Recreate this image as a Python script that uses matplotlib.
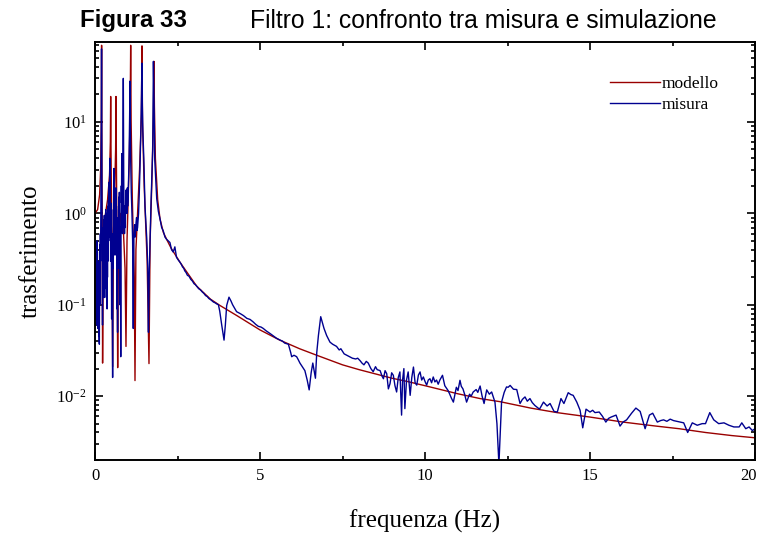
import numpy as np
import matplotlib.pyplot as plt
from matplotlib import ticker, font_manager

# valori: modello (curva rossa)
freq_modello = [0.0, 0.08, 0.14, 0.17, 0.19, 0.20, 0.21, 0.22, 0.23, 0.25, 0.30, 0.38, 0.44, 0.465,
                0.475, 0.485, 0.51, 0.535, 0.56, 0.60, 0.625, 0.636, 0.648, 0.67, 0.687, 0.71,
                0.78, 0.85, 0.91, 0.939, 0.97, 1.03, 1.065, 1.081, 1.095, 1.13, 1.19, 1.212, 1.24,
                1.35, 1.405, 1.424, 1.44, 1.49, 1.58, 1.636, 1.67, 1.72, 1.77, 1.788, 1.80, 1.83,
                1.90, 1.97, 2.07, 2.17, 2.3, 2.58, 3.08, 3.5, 3.79, 4.3, 5.0, 5.6, 6.2, 6.72, 7.5,
                8.0, 9.0, 9.45, 10.0, 11.0, 11.67, 12.27, 13.2, 14.0, 15.0, 16.0, 17.0, 17.7, 18.5,
                19.3, 20.0]
val_modello = [1.0, 1.1, 1.6, 3.0, 9.0, 69, 4.0, 0.4, 0.023, 0.4, 0.9, 1.4, 2.6, 6.0,
               19, 5.0, 0.6, 0.021, 0.6, 2.0, 5.0, 19, 4.0, 0.3, 0.0205, 0.4,
               1.0, 0.8, 0.25, 0.035, 0.5, 3.0, 12, 69, 10, 1.5, 0.2, 0.0148, 0.4,
               3.0, 12, 68, 10, 2.0, 0.3, 0.0227, 0.5, 2.0, 12, 46, 15, 4.0,
               1.4, 0.87, 0.62, 0.52, 0.42, 0.29, 0.16, 0.115, 0.098, 0.076, 0.053, 0.041, 0.033,
               0.028, 0.022, 0.0195, 0.0157, 0.0145, 0.0130, 0.0106, 0.0094, 0.0087, 0.0074,
               0.0066, 0.0059, 0.0052, 0.0047, 0.0044, 0.0040, 0.0037, 0.0035]

# valori: misura (curva blu), in quattro tratti
# tratto 1: 0 - 0.9 Hz (passo 0.006)
freq_mis_1 = [
    0.000, 0.006, 0.012, 0.018, 0.024, 0.030, 0.036, 0.042, 0.048, 0.054, 0.060, 0.066, 0.072,
    0.078, 0.084, 0.090, 0.096, 0.102, 0.108, 0.114, 0.120, 0.126, 0.132, 0.138, 0.144, 0.150,
    0.156, 0.162, 0.168, 0.174, 0.180, 0.186, 0.192, 0.198, 0.204, 0.210, 0.216, 0.222, 0.228,
    0.234, 0.240, 0.246, 0.252, 0.258, 0.264, 0.270, 0.276, 0.282, 0.288, 0.294, 0.300, 0.306,
    0.312, 0.318, 0.324, 0.330, 0.336, 0.342, 0.348, 0.354, 0.360, 0.366, 0.372, 0.378, 0.384,
    0.390, 0.396, 0.402, 0.408, 0.414, 0.420, 0.426, 0.432, 0.438, 0.444, 0.450, 0.456, 0.462,
    0.468, 0.474, 0.480, 0.486, 0.492, 0.498, 0.504, 0.510, 0.516, 0.522, 0.528, 0.534, 0.540,
    0.546, 0.552, 0.558, 0.564, 0.570, 0.576, 0.582, 0.588, 0.594, 0.600, 0.606, 0.612, 0.618,
    0.624, 0.630, 0.636, 0.642, 0.648, 0.654, 0.660, 0.666, 0.672, 0.678, 0.684, 0.690, 0.696,
    0.702, 0.708, 0.714, 0.720, 0.726, 0.732, 0.738, 0.744, 0.750, 0.756, 0.762, 0.768, 0.774,
    0.780, 0.786, 0.792, 0.798, 0.804, 0.810, 0.816, 0.822, 0.828, 0.834, 0.840, 0.846, 0.852,
    0.858, 0.864, 0.870, 0.876, 0.882, 0.888, 0.894, 0.900]
val_mis_1 = [
    0.55, 0.10, 0.50, 0.07, 0.40, 0.08, 0.32, 0.06, 0.45, 0.12, 0.50, 0.07, 0.38,
    0.09, 0.30, 0.055, 0.26, 0.06, 0.22, 0.045, 0.20, 0.04, 0.037, 0.30, 0.10, 0.45,
    0.15, 0.60, 0.30, 0.9, 1.6, 4.0, 12, 63, 8.0, 1.5, 0.5, 0.10, 0.06,
    0.35, 0.12, 0.55, 0.15, 0.70, 0.20, 0.85, 0.25, 0.95, 0.30, 0.12, 0.65, 0.20,
    0.9, 0.30, 1.1, 0.35, 0.8, 0.15, 0.6, 0.25, 1.0, 0.09, 0.55, 0.20, 0.8,
    0.30, 1.2, 0.40, 1.4, 0.50, 1.8, 0.55, 2.2, 0.7, 2.6, 4.0, 1.5, 0.6,
    1.1, 0.3, 1.3, 0.45, 0.9, 0.25, 0.07, 0.35, 0.6, 0.15, 0.04, 0.016, 0.3,
    0.6, 0.25, 1.1, 0.5, 1.6, 3.1, 1.2, 0.5, 1.4, 0.35, 1.0, 0.45, 1.5,
    0.6, 1.9, 0.9, 0.35, 1.1, 0.4, 0.9, 0.09, 0.45, 0.2, 0.05, 0.6, 0.25,
    0.9, 0.35, 1.2, 0.5, 1.5, 0.6, 1.7, 0.8, 0.35, 0.1, 0.5, 0.7, 0.2,
    0.027, 0.6, 1.1, 2.0, 1.3, 4.5, 1.6, 0.8, 1.4, 0.6, 2.5, 5.0, 12,
    30, 8.0, 2.5, 1.2, 0.7, 1.2, 0.6, 0.9]

# tratto 2: 0.9 - 2.3 Hz
freq_mis_2 = [
    0.91, 0.92, 0.93, 0.94, 0.95, 0.96, 0.97, 0.98, 0.99, 1.00, 1.01, 1.02, 1.03, 1.04, 1.05,
    1.06, 1.07, 1.08, 1.09, 1.10, 1.12, 1.14, 1.15, 1.16, 1.17, 1.18, 1.20, 1.215, 1.23, 1.245,
    1.26, 1.275, 1.29, 1.305, 1.32, 1.34, 1.36, 1.39, 1.41, 1.42, 1.435, 1.45, 1.48, 1.515,
    1.55, 1.57, 1.60, 1.62, 1.64, 1.67, 1.70, 1.75, 1.77, 1.79, 1.81, 1.87, 1.92, 1.97, 2.02,
    2.07, 2.12, 2.17, 2.22, 2.27, 2.32]
val_mis_2 = [
    1.2, 0.7, 1.4, 1.8, 1.1, 1.5, 1.0, 1.9, 1.2, 1.4, 1.9, 2.5, 3.5, 6.0, 12,
    28, 9.0, 4.0, 2.5, 1.7, 1.0, 0.5, 0.2, 0.055, 0.3, 0.6, 0.75, 0.55, 0.65, 0.8,
    0.9, 0.65, 0.7, 0.85, 1.0, 1.6, 2.8, 8.0, 20, 44, 15, 8.0, 3.9, 1.2,
    0.7, 0.52, 0.25, 0.05, 0.2, 0.52, 1.4, 5.0, 46, 15, 3.9, 1.45, 1.05, 0.87, 0.70,
    0.64, 0.55, 0.52, 0.50, 0.48, 0.40]

# tratto 3: 2.3 - 8.7 Hz
freq_mis_3 = [
    2.37, 2.42, 2.47, 2.52, 2.58, 2.62, 2.65, 2.69, 2.72, 2.76, 2.80, 2.85, 2.90, 2.95, 3.00,
    3.04, 3.08, 3.14, 3.20, 3.25, 3.30, 3.35, 3.40, 3.45, 3.50, 3.55, 3.59, 3.64, 3.69, 3.74,
    3.78, 3.84, 3.91, 3.95, 3.99, 4.06, 4.12, 4.17, 4.29, 4.40, 4.50, 4.60, 4.70, 4.79, 4.87,
    4.95, 5.03, 5.10, 5.18, 5.25, 5.32, 5.39, 5.50, 5.61, 5.68, 5.75, 5.86, 5.93, 5.96, 6.03,
    6.11, 6.16, 6.21, 6.28, 6.36, 6.43, 6.49, 6.55, 6.60, 6.64, 6.68, 6.72, 6.77, 6.84, 6.94,
    7.02, 7.12, 7.20, 7.26, 7.32, 7.40, 7.45, 7.55, 7.63, 7.72, 7.80, 7.90, 7.96, 8.03, 8.09,
    8.15, 8.22, 8.28, 8.36, 8.43, 8.50, 8.55, 8.64, 8.70]
val_mis_3 = [
    0.377, 0.43, 0.33, 0.31, 0.29, 0.275, 0.26, 0.25, 0.235, 0.225, 0.21, 0.205, 0.19, 0.182, 0.17,
    0.166, 0.16, 0.150, 0.145, 0.138, 0.133, 0.126, 0.123, 0.117, 0.114, 0.110, 0.107, 0.105, 0.102, 0.100,
    0.085, 0.060, 0.041, 0.060, 0.098, 0.121, 0.110, 0.100, 0.084, 0.080, 0.076, 0.071, 0.069, 0.065, 0.061,
    0.058, 0.057, 0.055, 0.052, 0.050, 0.048, 0.046, 0.043, 0.041, 0.040, 0.038, 0.037, 0.030, 0.027, 0.028,
    0.027, 0.025, 0.023, 0.021, 0.019, 0.015, 0.0117, 0.018, 0.023, 0.019, 0.0157, 0.030, 0.046, 0.074, 0.055,
    0.046, 0.039, 0.037, 0.036, 0.035, 0.032, 0.033, 0.029, 0.028, 0.027, 0.026, 0.0255, 0.026, 0.0245, 0.023,
    0.022, 0.024, 0.023, 0.020, 0.0185, 0.021, 0.0195, 0.019, 0.0165]

# tratto 4: 8.7 - 20 Hz
freq_mis_4 = [
    8.74, 8.79, 8.84, 8.89, 8.94, 8.99, 9.04, 9.09, 9.14, 9.19,
    9.24, 9.29, 9.32, 9.36, 9.39, 9.44, 9.49, 9.55, 9.60, 9.65,
    9.70, 9.75, 9.80, 9.85, 9.90, 9.95, 10.00, 10.05, 10.10, 10.15,
    10.20, 10.25, 10.30, 10.35, 10.40, 10.45, 10.53, 10.60, 10.66, 10.70,
    10.75, 10.80, 10.86, 10.95, 11.00, 11.06, 11.10, 11.15, 11.20, 11.26,
    11.35, 11.40, 11.46, 11.55, 11.60, 11.67, 11.73, 11.79, 11.87, 11.95,
    12.02, 12.12, 12.18, 12.24, 12.28, 12.32, 12.40, 12.47, 12.52, 12.58,
    12.68, 12.78, 12.88, 12.95, 13.03, 13.10, 13.18, 13.25, 13.33, 13.47,
    13.59, 13.70, 13.79, 13.91, 14.01, 14.12, 14.21, 14.34, 14.42, 14.49,
    14.60, 14.70, 14.78, 14.88, 15.00, 15.08, 15.15, 15.28, 15.38, 15.48,
    15.56, 15.64, 15.79, 15.91, 16.00, 16.11, 16.26, 16.39, 16.52, 16.67,
    16.80, 16.90, 17.04, 17.14, 17.23, 17.33, 17.43, 17.53, 17.63, 17.74,
    17.84, 17.96, 18.10, 18.25, 18.40, 18.50, 18.63, 18.75, 18.90, 19.06,
    19.21, 19.36, 19.52, 19.60, 19.72, 19.82, 19.92, 20.00]
val_mis_4 = [
    0.0155, 0.019, 0.0176, 0.012, 0.0137, 0.018, 0.0169, 0.013, 0.0111, 0.016,
    0.0184, 0.0062, 0.015, 0.020, 0.0073, 0.015, 0.0184, 0.0102, 0.016, 0.0208,
    0.014, 0.0132, 0.017, 0.0184, 0.015, 0.0162, 0.0145, 0.0132, 0.0150, 0.0155,
    0.0140, 0.0162, 0.0143, 0.0150, 0.0135, 0.0150, 0.0169, 0.013, 0.0121, 0.0115,
    0.0105, 0.0095, 0.0086, 0.0125, 0.0115, 0.0149, 0.0128, 0.012, 0.0105, 0.0086,
    0.0105, 0.0100, 0.0111, 0.0118, 0.0110, 0.0129, 0.0100, 0.0083, 0.0117, 0.0105,
    0.0111, 0.0086, 0.0050, 0.0018, 0.0040, 0.0086, 0.011, 0.0126, 0.0125, 0.0131,
    0.0119, 0.0118, 0.0083, 0.0092, 0.0098, 0.0088, 0.0094, 0.0085, 0.0079, 0.0072,
    0.0086, 0.0078, 0.0083, 0.0068, 0.0067, 0.0094, 0.0083, 0.0109, 0.0104, 0.0102,
    0.0086, 0.0070, 0.0045, 0.0072, 0.0067, 0.0070, 0.0066, 0.0067, 0.0060, 0.0052,
    0.0057, 0.0059, 0.0062, 0.0047, 0.0052, 0.0055, 0.0065, 0.0074, 0.0068, 0.0044,
    0.0062, 0.0065, 0.0052, 0.0054, 0.0055, 0.0053, 0.0056, 0.0054, 0.0053, 0.0052,
    0.0051, 0.0040, 0.0051, 0.0048, 0.0050, 0.0050, 0.0066, 0.0055, 0.0050, 0.0051,
    0.0048, 0.0046, 0.0046, 0.0051, 0.0044, 0.0046, 0.0042, 0.0044]

freq_misura = freq_mis_1 + freq_mis_2 + freq_mis_3 + freq_mis_4
val_misura = val_mis_1 + val_mis_2 + val_mis_3 + val_mis_4

col_modello = '#990000'
col_misura = '#000090'

serif = ['Liberation Serif', 'DejaVu Serif']
nomi = {f.name for f in font_manager.fontManager.ttflist}
if 'Liberation Sans Narrow' in nomi:
    sans, fs_tit = ['Liberation Sans Narrow', 'DejaVu Sans'], 20
else:
    sans, fs_tit = ['Liberation Sans', 'DejaVu Sans'], 17.3

plt.rcParams['mathtext.fontset'] = 'custom'
plt.rcParams['mathtext.rm'] = 'Liberation Serif'

fig = plt.figure(figsize=(7.61, 5.33), dpi=100)
ax = fig.add_axes([95 / 761, 1 - 460 / 533, 660 / 761, 418 / 533])

ax.plot(freq_modello, val_modello, color=col_modello, lw=1.0, label='modello')
ax.plot(freq_misura, val_misura, color=col_misura, lw=1.0, label='misura')

ax.set_yscale('log')
ax.set_xlim(0, 20)
ax.set_ylim(0.002, 75)
ax.xaxis.set_major_locator(ticker.MultipleLocator(5))
ax.xaxis.set_minor_locator(ticker.MultipleLocator(2.5))
# l'ultima etichetta (20) e' scritta a parte, allineata a destra sul bordo
ax.xaxis.set_major_formatter(ticker.FuncFormatter(
    lambda v, p: '' if v >= 20 else '%d' % v))
ax.yaxis.set_major_locator(ticker.FixedLocator([0.01, 0.1, 1, 10]))
ax.yaxis.set_minor_locator(ticker.LogLocator(base=10, subs=np.arange(2, 10)))
ax.yaxis.set_major_formatter(ticker.FuncFormatter(
    lambda v, p: r'$\mathregular{10^{%d}}$' % round(np.log10(v))))
ax.yaxis.set_minor_formatter(ticker.NullFormatter())

ax.tick_params(which='both', direction='in', top=True, right=True, width=1.2)
ax.tick_params(which='major', length=5.5, labelsize=12, pad=6)
ax.tick_params(which='minor', length=3.2)
for lab in ax.get_xticklabels() + ax.get_yticklabels():
    lab.set_family(serif)
for s in ax.spines.values():
    s.set_linewidth(1.4)

ax.annotate('20', xy=(20, 0), xycoords=('data', 'axes fraction'), xytext=(1.5, -6),
            textcoords='offset points', ha='right', va='top', family=serif, fontsize=12)

ax.set_xlabel('frequenza (Hz)', family=serif, fontsize=18, labelpad=18)
ax.set_ylabel('trasferimento', family=serif, fontsize=18, labelpad=10)

leg = ax.legend(loc='upper left', bbox_to_anchor=(0.78, 0.918), frameon=False,
                prop={'family': serif, 'size': 12.5}, handlelength=2.9,
                handletextpad=0.1, labelspacing=0.25, borderpad=0, borderaxespad=0)

fig.text(80 / 761, 1 - 21 / 533, 'Figura 33', family=sans, fontsize=fs_tit,
         fontweight='bold', va='center', ha='left')
fig.text(250 / 761, 1 - 21 / 533, 'Filtro 1: confronto tra misura e simulazione', family=sans,
         fontsize=fs_tit + 0.5, va='center', ha='left')

fig.savefig('out.png', dpi=100)
